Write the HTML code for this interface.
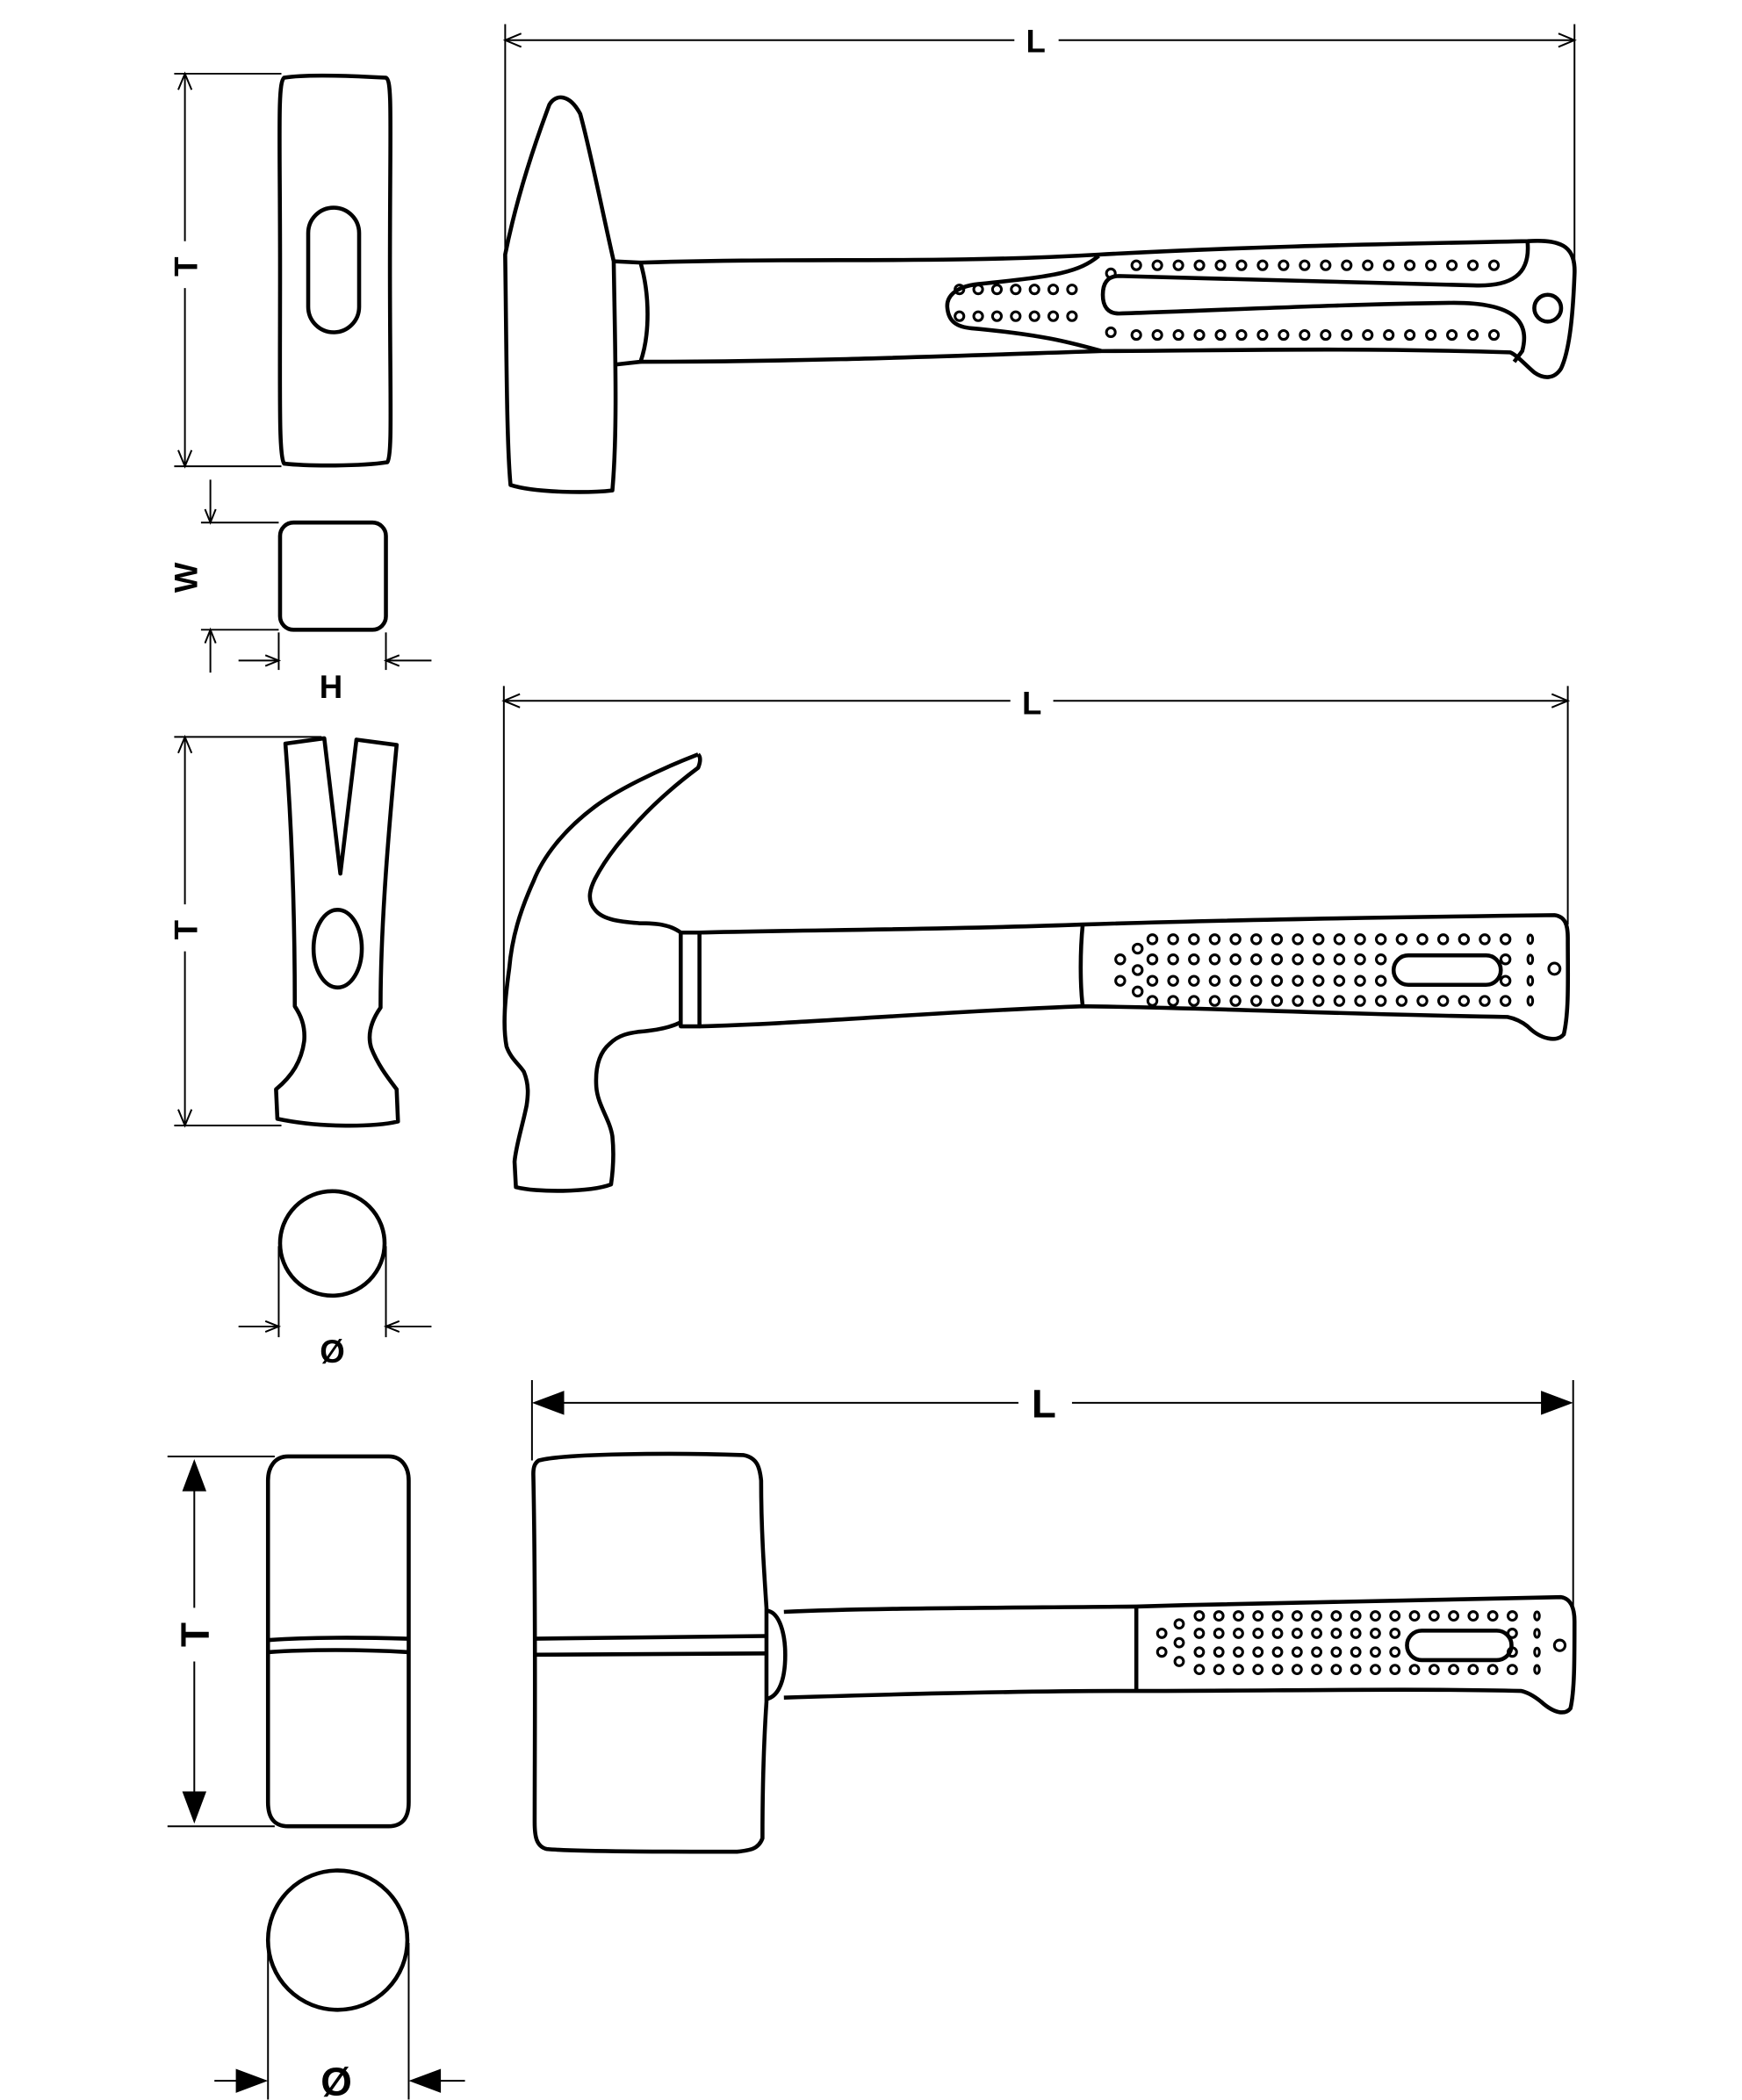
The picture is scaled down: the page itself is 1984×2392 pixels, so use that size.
<!DOCTYPE html>
<html><head><meta charset="utf-8"><style>
html,body{margin:0;padding:0;background:#fff;width:1984px;height:2392px;overflow:hidden}
svg{display:block}
text{font-family:"Liberation Sans",sans-serif;font-weight:bold;fill:#000}
</style></head><body>
<svg id="s" width="1984" height="2392" viewBox="0 0 1300 1567.3" preserveAspectRatio="none" xmlns="http://www.w3.org/2000/svg">
<g fill="none" stroke="#000" stroke-width="1.3">
<line x1="377" y1="18" x2="377" y2="190"/><line x1="1175" y1="18" x2="1175" y2="210"/>
<line x1="377" y1="30" x2="757" y2="30"/><line x1="790" y1="30" x2="1175" y2="30"/>
<polyline points="389,25 377,30 389,35"/><polyline points="1163,25 1175,30 1163,35"/>
<line x1="130" y1="55" x2="210" y2="55"/><line x1="130" y1="348" x2="210" y2="348"/>
<line x1="138" y1="55" x2="138" y2="180"/><line x1="138" y1="215" x2="138" y2="348"/>
<polyline points="133,67 138,55 143,67"/><polyline points="133,336 138,348 143,336"/>
<line x1="150" y1="390" x2="208" y2="390"/><line x1="150" y1="470" x2="208" y2="470"/>
<line x1="157" y1="358" x2="157" y2="390"/><line x1="157" y1="470" x2="157" y2="502"/>
<polyline points="153,380 157,390 161,380"/><polyline points="153,480 157,470 161,480"/>
<line x1="208" y1="472" x2="208" y2="500"/><line x1="288" y1="472" x2="288" y2="500"/>
<line x1="178" y1="493" x2="208" y2="493"/><line x1="288" y1="493" x2="322" y2="493"/>
<polyline points="198,489 208,493 198,497"/><polyline points="298,489 288,493 298,497"/>
<line x1="376" y1="512" x2="376" y2="760"/><line x1="1170" y1="512" x2="1170" y2="690"/>
<line x1="376" y1="523" x2="754" y2="523"/><line x1="786" y1="523" x2="1170" y2="523"/>
<polyline points="388,518 376,523 388,528"/><polyline points="1158,518 1170,523 1158,528"/>
<line x1="130" y1="550" x2="240" y2="550"/><line x1="130" y1="840" x2="210" y2="840"/>
<line x1="138" y1="550" x2="138" y2="675"/><line x1="138" y1="710" x2="138" y2="840"/>
<polyline points="133,562 138,550 143,562"/><polyline points="133,828 138,840 143,828"/>
<line x1="208" y1="930" x2="208" y2="998"/><line x1="288" y1="930" x2="288" y2="998"/>
<line x1="178" y1="990" x2="208" y2="990"/><line x1="288" y1="990" x2="322" y2="990"/>
<polyline points="198,986 208,990 198,994"/><polyline points="298,986 288,990 298,994"/>
<line x1="397" y1="1030" x2="397" y2="1090"/><line x1="1174" y1="1030" x2="1174" y2="1200"/>
<line x1="405" y1="1047" x2="760" y2="1047"/><line x1="800" y1="1047" x2="1165" y2="1047"/>
<line x1="125" y1="1087" x2="205" y2="1087"/><line x1="125" y1="1363" x2="205" y2="1363"/>
<line x1="145" y1="1100" x2="145" y2="1200"/><line x1="145" y1="1240" x2="145" y2="1350"/>
<line x1="200" y1="1450" x2="200" y2="1567"/><line x1="305" y1="1450" x2="305" y2="1567"/>
<line x1="160" y1="1553" x2="180" y2="1553"/><line x1="325" y1="1553" x2="347" y2="1553"/>
</g>
<g fill="#000">
<polygon points="397,1047 421,1038 421,1056"/><polygon points="1174,1047 1150,1038 1150,1056"/>
<polygon points="145,1089 136,1113 154,1113"/><polygon points="145,1361 136,1337 154,1337"/>
<polygon points="200,1553 176,1544 176,1562"/><polygon points="305,1553 329,1544 329,1562"/>
</g>
<g font-size="24" text-anchor="middle">
<text x="773" y="39">L</text><text x="770" y="533">L</text>
<text x="247" y="521">H</text><text x="248" y="1017">Ø</text>
<text transform="translate(147,199) rotate(-90)">T</text>
<text transform="translate(147,431) rotate(-90)">W</text>
<text transform="translate(147,694) rotate(-90)">T</text>
</g>
<g font-size="30" text-anchor="middle">
<text x="779" y="1058">L</text><text x="251" y="1564">Ø</text>
<text transform="translate(156,1220) rotate(-90)">T</text>
</g>
<g fill="none" stroke="#000" stroke-width="3" stroke-linejoin="round">
<path d="M212,58 C230,55 270,57 288,58 C293,60 291,90 291,200 C291,300 293,340 289,345 C270,348 230,348 212,346 C208,340 209,300 209,200 C209,100 207,62 212,58Z"/>
<rect x="230" y="155" width="38" height="93" rx="19"/>
<rect x="209" y="390" width="79" height="80" rx="10"/>
<path d="M377,190 C378,260 378,330 381,362 C400,368 440,368 457,366 C461,320 459,260 458,195 C450,160 440,110 433,85 C425,70 415,70 410,78 C398,110 385,150 377,190Z"/>
<path d="M458,195 L478,196 C485,220 485,250 478,270 L460,272"/>
<path d="M478,196 C600,192 700,197 820,190 C950,183 1050,182 1140,180 C1168,178 1176,186 1175,205 C1174,230 1172,260 1165,275 C1160,283 1152,283 1145,278 C1138,272 1132,265 1127,263 C1000,259 900,262 822,262 C700,266 600,270 478,270"/>
<path d="M820,191 C805,203 790,206 730,212 C712,214 706,222 707,230 C708,240 714,244 725,245 C780,250 800,256 822,262"/>
<path d="M1140,181 C1142,205 1128,214 1100,213 C1000,210 900,207 835,206 C826,206 823,212 823,220 C823,229 827,234 835,234 C900,232 1000,227 1085,226 C1130,226 1142,240 1136,262 L1130,270"/>
<circle cx="1155" cy="230" r="10"/>
<path d="M213,555 L242,551 L254,652 L266,552 L296,556 C290,620 284,690 284,752 C277,762 274,772 277,782 C282,795 290,805 296,813 L297,837 C280,841 240,842 207,835 L206,813 C218,803 225,792 227,777 C228,765 224,757 220,751 C220,690 218,620 213,555Z"/>
<ellipse cx="252" cy="708" rx="18" ry="29"/>
<circle cx="248" cy="928" r="39"/>
<path d="M521,563 C490,575 460,590 444,602 C420,620 405,640 398,658 C388,680 382,700 380,723 C377,745 375,765 378,781 C381,790 388,795 391,800 C395,810 394,818 393,825 C390,840 385,855 384,867 L385,886 C400,890 440,890 456,884 C458,870 458,858 457,848 C455,835 446,825 445,811 C444,795 448,785 455,779 C462,772 470,771 477,770 C490,769 500,767 508,763"/>
<path d="M508,696 C500,690 490,689 477,689 C465,688 450,687 444,679 C438,672 440,664 444,656 C455,635 470,620 477,612 C490,598 505,585 521,573 C523,568 523,565 521,563"/>
<path d="M508,696 L522,696 L522,766 L508,766 Z"/>
<path d="M522,696 C600,694 700,694 808,690 C900,687 1000,685 1160,683 C1168,684 1170,690 1170,700 C1170,730 1171,755 1167,772 C1162,778 1150,776 1140,766 C1135,762 1130,760 1125,759 C1000,757 900,752 808,751 C700,755 600,764 522,766"/>
<path d="M808,690 C806,710 806,735 808,751"/>
<rect x="1040" y="713" width="80" height="22" rx="11"/>
<path d="M215,1087 L290,1087 C300,1087 305,1095 305,1105 L305,1345 C305,1357 300,1363 290,1363 L215,1363 C205,1363 200,1357 200,1345 L200,1105 C200,1095 205,1087 215,1087Z"/>
<path d="M201,1224 C230,1222 270,1222 304,1223 M201,1233 C230,1231 270,1231 304,1233"/>
<circle cx="252" cy="1448" r="52"/>
<path d="M402,1090 C420,1085 500,1084 555,1086 C565,1088 567,1095 568,1105 C568,1140 570,1170 572,1200 L572,1270 C570,1300 569,1340 569,1372 C566,1380 560,1381 550,1382 C500,1382 430,1382 408,1380 C400,1378 399,1370 399,1360 C399,1300 400,1200 398,1100 C398,1095 399,1092 402,1090Z"/>
<path d="M398,1223 L572,1221 M398,1235 L572,1234"/>
<path d="M572,1202 C582,1203 586,1220 586,1235 C586,1252 582,1266 572,1268"/>
<path d="M585,1203 C650,1200 750,1200 848,1199 C950,1196 1050,1194 1165,1192 C1172,1193 1175,1200 1175,1210 C1175,1240 1175,1262 1172,1275 C1168,1280 1160,1279 1150,1270 C1145,1266 1140,1263 1135,1262 C1050,1260 950,1262 848,1262 C750,1262 650,1265 585,1267"/>
<path d="M848,1199 L848,1262"/>
<rect x="1050" y="1217" width="78" height="22" rx="11"/>
</g>
<g id="dots" fill="none" stroke="#000" stroke-width="2"></g>
</svg>
<script>
var g=document.getElementById('dots'),ns='http://www.w3.org/2000/svg';
function c(x,y,r,ry){var e=document.createElementNS(ns,ry?'ellipse':'circle');e.setAttribute('cx',x);e.setAttribute('cy',y);if(ry){e.setAttribute('rx',r);e.setAttribute('ry',ry);}else e.setAttribute('r',r);g.appendChild(e);}
var i;
for(i=0;i<7;i++){c(716+i*14,216,3.3);c(716+i*14,236,3.3);}
c(829,204,3.3);c(829,248,3.3);
for(i=0;i<18;i++){c(848+i*15.7,198,3.3);c(848+i*15.7,250,3.3);}
var ry=[701,716,732,747];
for(i=0;i<18;i++){c(860+i*15.5,ry[0],3.4);c(860+i*15.5,ry[3],3.4);if(i<12||i==17){c(860+i*15.5,ry[1],3.4);c(860+i*15.5,ry[2],3.4);}}
for(i=0;i<4;i++)c(1142,ry[i],1.8,3.2);
c(836,716,3.4);c(836,732,3.4);c(849,708,3.4);c(849,724,3.4);c(849,740,3.4);
c(1160,723,4.2);
var my=[1206,1219,1233,1246];
for(i=0;i<17;i++){c(895+i*14.6,my[0],3.2);c(895+i*14.6,my[3],3.2);if(i<11||i==16){c(895+i*14.6,my[1],3.2);c(895+i*14.6,my[2],3.2);}}
for(i=0;i<4;i++)c(1147,my[i],1.8,3);
c(867,1219,3.2);c(867,1233,3.2);c(880,1212,3.2);c(880,1226,3.2);c(880,1240,3.2);
c(1164,1228,4);
</script>
</body></html>
